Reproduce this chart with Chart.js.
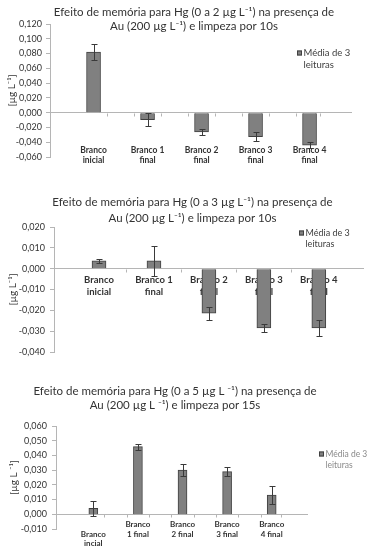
<!DOCTYPE html>
<html>
<head>
<meta charset="utf-8">
<script src="https://cdn.jsdelivr.net/npm/chart.js@4/dist/chart.umd.min.js"></script>
<style>
  body { margin: 0; background: #fff; }
  .box { position: absolute; left: 0; width: 370px; }
</style>
</head>
<body>
<div class="box" style="top:0"><canvas id="c1" width="370" height="180"></canvas></div>
<div class="box" style="top:185px"><canvas id="c2" width="370" height="180"></canvas></div>
<div class="box" style="top:365px"><canvas id="c3" width="370" height="190"></canvas></div>
<script>
// ---- data ----
var labelsAB = [['Branco', 'inicial'], ['Branco 1', 'final'], ['Branco 2', 'final'], ['Branco 3', 'final'], ['Branco 4', 'final']];
var labelsC = [['Branco', 'incial'], ['Branco', '1 final'], ['Branco', '2 final'], ['Branco', '3 final'], ['Branco', '4 final']];

var values1 = [0.082, -0.0095, -0.026, -0.0325, -0.044];
var errors1 = [0.011, 0.0085, 0.004, 0.006, 0.004];

var values2 = [0.0038, 0.0038, -0.0214, -0.0285, -0.0285];
var errors2 = [0.001, 0.0071, 0.003, 0.002, 0.004];

var values3 = [0.004, 0.046, 0.030, 0.029, 0.013];
var errors3 = [0.005, 0.002, 0.004, 0.003, 0.006];

var title1 = ['Efeito de memória para Hg (0 a 2 µg L⁻¹) na presença de', 'Au (200 µg L⁻¹) e limpeza por 10s'];
var title2 = ['Efeito de memória para Hg (0 a 3 µg L⁻¹) na presença de', 'Au (200 µg L⁻¹) e limpeza por 10s'];
var title3 = ['Efeito de memória para Hg (0 a 5 µg L ⁻¹) na presença de', 'Au (200 µg L ⁻¹) e limpeza por 15s'];
var legendText = ['Média de 3', 'leituras'];
var yTitle = '[µg L⁻¹]';
var yTitle3 = '[µg L ⁻¹]';

var FONT = 'Lato, "Open Sans", sans-serif';

function fmt(v) {
    if (Math.abs(v) < 1e-9) v = 0;
    return v.toFixed(3).replace('.', ',');
}

// titles, legend, error bars and small axis marks
var extras = {
    id: 'extras',
    afterDatasetsDraw: function (chart, args, o) {
        var ctx = chart.ctx;
        var xs = chart.scales.x, ys = chart.scales.y;
        var ds = chart.data.datasets[0];
        var meta = chart.getDatasetMeta(0);
        ctx.save();

        // tick marks on zero line
        var y0 = Math.round(ys.getPixelForValue(0)) + 0.5;
        ctx.strokeStyle = '#b5b5b5';
        ctx.lineWidth = 1;
        ctx.beginPath();
        o.marks.forEach(function (m) {
            var px = Math.round(xs.getPixelForValue(m)) + 0.5;
            ctx.moveTo(px, y0);
            ctx.lineTo(px, y0 + 3);
        });
        ctx.stroke();

        // error bars
        ctx.strokeStyle = '#3a3a3a';
        ctx.beginPath();
        meta.data.forEach(function (bar, i) {
            var v = ds.data[i].y, e = o.errors[i];
            var px = Math.round(bar.x) + 0.5;
            var a = Math.round(ys.getPixelForValue(v + e)) + 0.5;
            var b = Math.round(ys.getPixelForValue(v - e)) + 0.5;
            ctx.moveTo(px, a); ctx.lineTo(px, b);
            ctx.moveTo(px - 3, a); ctx.lineTo(px + 3, a);
            ctx.moveTo(px - 3, b); ctx.lineTo(px + 3, b);
        });
        ctx.stroke();

        // title
        ctx.fillStyle = '#333';
        ctx.font = o.titleSize + 'px ' + FONT;
        ctx.textAlign = 'center';
        ctx.textBaseline = 'middle';
        o.title.forEach(function (t, i) {
            ctx.fillText(t, o.titleX, o.titleY[i]);
        });

        // legend
        ctx.fillStyle = ds.backgroundColor;
        ctx.strokeStyle = ds.borderColor;
        ctx.fillRect(o.legX, o.legY - 2.5, 5, 5);
        ctx.strokeRect(o.legX + 0.5, o.legY - 2, 4, 4);
        ctx.fillStyle = o.legColor;
        ctx.font = o.legSize + 'px ' + FONT;
        ctx.textAlign = 'left';
        legendText.forEach(function (t, i) {
            ctx.fillText(t, o.legX + 6.5, o.legY + i * o.legGap);
        });
        ctx.restore();
    }
};

function makeChart(id, values, labels, cfg) {
    var data = values.map(function (v, i) { return { x: i, y: v }; });
    return new Chart(document.getElementById(id), {
        type: 'bar',
        data: {
            datasets: [{
                label: legendText.join(' '),
                data: data,
                backgroundColor: '#808080',
                borderColor: '#404040',
                borderWidth: 1,
                barThickness: cfg.barWidth
            }]
        },
        options: {
            responsive: false,
            animation: false,
            layout: { padding: cfg.padding },
            plugins: {
                legend: { display: false },
                tooltip: { enabled: false },
                extras: cfg.extras
            },
            scales: {
                x: {
                    type: 'linear',
                    position: { y: cfg.labelAt },
                    min: cfg.xMin,
                    max: cfg.xMax,
                    z: 1,
                    grid: { display: false, drawTicks: false },
                    border: { display: false },
                    ticks: {
                        stepSize: 1,
                        includeBounds: false,
                        autoSkip: false,
                        maxRotation: 0,
                        padding: cfg.labelPad,
                        color: '#333',
                        font: { family: FONT, size: cfg.labelSize, weight: 'bold', lineHeight: cfg.labelLine },
                        callback: function (v) {
                            var l = labels[Math.round(v)];
                            return cfg.stagger && Math.round(v) === 0 ? [''].concat(l) : l;
                        }
                    }
                },
                y: {
                    min: cfg.yMin,
                    max: cfg.yMax,
                    afterFit: function (s) { s.width = cfg.axisX; },
                    grid: {
                        color: function (c) { return Math.abs(c.tick.value) < 1e-9 ? '#b5b5b5' : 'rgba(0,0,0,0)'; },
                        tickColor: '#b5b5b5',
                        tickLength: 4
                    },
                    border: { color: '#b5b5b5' },
                    title: {
                        display: true,
                        text: cfg.yTitle,
                        color: '#333',
                        font: { family: FONT, size: 10 },
                        padding: { top: cfg.yTitlePad, bottom: 0 }
                    },
                    ticks: {
                        stepSize: cfg.yStep,
                        autoSkip: false,
                        padding: cfg.tickPad,
                        color: '#333',
                        font: { family: FONT, size: 9 },
                        callback: fmt
                    }
                }
            }
        },
        plugins: [extras]
    });
}

makeChart('c1', values1, labelsAB, {
    barWidth: 14, axisX: 50, xMin: -0.247, xMax: 4.227,
    yMin: -0.06, yMax: 0.12, yStep: 0.02,
    padding: { top: 24, bottom: 23, left: 0, right: 18 },
    labelAt: -0.04, labelPad: 3, labelSize: 8.5, labelLine: 1.2,
    tickPad: 4, yTitle: yTitle, yTitlePad: 6,
    extras: {
        errors: errors1, marks: [0.25, 0.75, 1.25, 1.75, 2.25, 2.75, 3.25, 3.75, 4.2],
        title: title1, titleX: 194, titleY: [12, 26], titleSize: 11.5,
        legX: 297, legY: 53, legGap: 12, legSize: 9.5, legColor: '#404040'
    }
});

makeChart('c2', values2, labelsAB, {
    barWidth: 14, axisX: 54, xMin: -0.255, xMax: 4.258,
    yMin: -0.04, yMax: 0.02, yStep: 0.01,
    padding: { top: 42, bottom: 13, left: 0, right: 6 },
    labelAt: 0, labelPad: 5, labelSize: 9.5, labelLine: 1.27,
    tickPad: 5, yTitle: yTitle, yTitlePad: 7,
    extras: {
        errors: errors2, marks: [0.5, 1.5, 2.5, 3.5],
        title: title2, titleX: 192.5, titleY: [17, 33], titleSize: 11.5,
        legX: 299, legY: 48, legGap: 11.5, legSize: 9, legColor: '#404040'
    }
});

makeChart('c3', values3, labelsC, {
    barWidth: 9, axisX: 56, xMin: -0.272, xMax: 4.249, stagger: true,
    yMin: -0.01, yMax: 0.06, yStep: 0.01,
    padding: { top: 61, bottom: 26, left: 0, right: 62 },
    labelAt: 0, labelPad: 6, labelSize: 8, labelLine: 1.15,
    tickPad: 5, yTitle: yTitle3, yTitlePad: 8,
    extras: {
        errors: errors3, marks: [0.25, 0.75, 1.25, 1.75, 2.25, 2.75, 3.25, 3.75, 4.2],
        title: title3, titleX: 175, titleY: [26, 40], titleSize: 11.5,
        legX: 319, legY: 89, legGap: 11, legSize: 8.5, legColor: '#8a8a8a'
    }
});
</script>
</body>
</html>
